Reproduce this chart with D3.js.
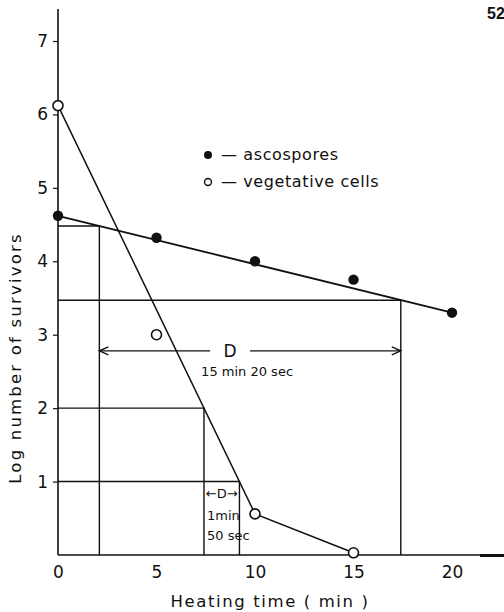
<!DOCTYPE html>
<html>
<head>
<meta charset="utf-8">
<script src="https://cdn.jsdelivr.net/npm/d3@7"></script>
<style>
  html, body { margin: 0; padding: 0; background: #fff; }
  svg { display: block; }
  text { font-family: "DejaVu Sans", "Noto Sans", sans-serif; fill: #111; }
</style>
</head>
<body>
<svg id="chart" width="504" height="612"></svg>
<script>
// Survival of ascospores and vegetative cells during heating
const ascoTime = [0, 5, 10, 15, 20];
const ascospores = [4.62, 4.32, 4.0, 3.75, 3.3];
const vegTime = [0, 5, 10, 15];
const vegetative = [6.12, 3.0, 0.56, 0.03];

// fitted survivor curves
const ascoFitTime = [0, 20];
const ascoFitLog = [4.62, 3.3];
const vegFitTime = [0, 10, 15];
const vegFitLog = [6.12, 0.56, 0.03];

// D-value construction lines: log level and the time where the curve reaches it
const ascoDLevels = [4.48, 3.47];
const ascoDTimes = [2.1, 17.4];
const vegDLevels = [2, 1];
const vegDTimes = [7.41, 9.21];

const xTicks = [0, 5, 10, 15, 20];
const yTicks = [1, 2, 3, 4, 5, 6, 7];

const svg = d3.select("#chart");
const x = d3.scaleLinear().domain([0, 20]).range([58, 452]);
const y = d3.scaleLinear().domain([0, 7]).range([555, 41]);
const ink = "#111";

// axes
svg.append("line").attr("x1", x(0)).attr("x2", 504).attr("y1", y(0)).attr("y2", y(0))
  .attr("stroke", ink).attr("stroke-width", 1.6);
svg.append("line").attr("x1", 480).attr("x2", 504).attr("y1", y(0) + 0.5).attr("y2", y(0) + 0.5)
  .attr("stroke", ink).attr("stroke-width", 3);
svg.append("line").attr("x1", x(0)).attr("x2", x(0)).attr("y1", 9).attr("y2", y(0))
  .attr("stroke", ink).attr("stroke-width", 1.6);

const yAxis = d3.axisLeft(y).tickValues(yTicks).tickSize(5).tickPadding(5).tickFormat(d3.format("d"));
const gy = svg.append("g").attr("transform", `translate(${x(0)},0)`).call(yAxis);
gy.select(".domain").remove();
gy.selectAll(".tick line").attr("stroke", ink).attr("stroke-width", 1.2);
gy.selectAll(".tick text").attr("font-size", 17).attr("fill", ink)
  .style("font-family", "'DejaVu Sans', sans-serif");

const xAxis = d3.axisBottom(x).tickValues(xTicks).tickSize(0).tickPadding(11).tickFormat(d3.format("d"));
const gx = svg.append("g").attr("transform", `translate(0,${y(0)})`).call(xAxis);
gx.select(".domain").remove();
gx.selectAll(".tick text").attr("font-size", 17).attr("fill", ink)
  .style("font-family", "'DejaVu Sans', sans-serif");

// axis titles
svg.append("text").attr("x", 270).attr("y", 607).attr("text-anchor", "middle")
  .attr("font-size", 16.5).attr("letter-spacing", 1.6).text("Heating  time ( min )");
svg.append("text").attr("transform", "translate(21,358) rotate(-90)").attr("text-anchor", "middle")
  .attr("font-size", 16.5).attr("letter-spacing", 2.2).text("Log number of survivors");

// construction lines for D values
function guides(levels, times) {
  levels.forEach((lv, i) => {
    svg.append("path")
      .attr("d", `M${x(0)},${y(lv)}H${x(times[i])}V${y(0)}`)
      .attr("fill", "none").attr("stroke", ink).attr("stroke-width", 1.4);
  });
}
guides(ascoDLevels, ascoDTimes);
guides(vegDLevels, vegDTimes);

// fitted curves
const line = d3.line().x(d => x(d[0])).y(d => y(d[1]));
svg.append("path").attr("d", line(ascoFitTime.map((t, i) => [t, ascoFitLog[i]])))
  .attr("fill", "none").attr("stroke", ink).attr("stroke-width", 1.8);
svg.append("path").attr("d", line(vegFitTime.map((t, i) => [t, vegFitLog[i]])))
  .attr("fill", "none").attr("stroke", ink).attr("stroke-width", 1.5);

// points
svg.selectAll("circle.asco").data(ascoTime.map((t, i) => [t, ascospores[i]])).enter()
  .append("circle").attr("class", "asco")
  .attr("cx", d => x(d[0])).attr("cy", d => y(d[1])).attr("r", 5.2).attr("fill", ink);
svg.selectAll("circle.veg").data(vegTime.map((t, i) => [t, vegetative[i]])).enter()
  .append("circle").attr("class", "veg")
  .attr("cx", d => x(d[0])).attr("cy", d => y(d[1])).attr("r", 5)
  .attr("fill", "#fff").attr("stroke", ink).attr("stroke-width", 1.6);

// D arrow for ascospores
const arrowY = y(2.78);
const dMid = (x(ascoDTimes[0]) + x(ascoDTimes[1])) / 2 - 20;
svg.append("path").attr("d", `M${x(ascoDTimes[0])},${arrowY}H${dMid - 20}M${dMid + 20},${arrowY}H${x(ascoDTimes[1])}`)
  .attr("stroke", ink).attr("stroke-width", 1.4).attr("fill", "none");
svg.append("path")
  .attr("d", `M${x(ascoDTimes[0]) + 9},${arrowY - 4}L${x(ascoDTimes[0])},${arrowY}L${x(ascoDTimes[0]) + 9},${arrowY + 4}` +
             `M${x(ascoDTimes[1]) - 9},${arrowY - 4}L${x(ascoDTimes[1])},${arrowY}L${x(ascoDTimes[1]) - 9},${arrowY + 4}`)
  .attr("stroke", ink).attr("stroke-width", 1.4).attr("fill", "none");
svg.append("text").attr("x", dMid).attr("y", arrowY + 6).attr("text-anchor", "middle")
  .attr("font-size", 17).text("D");
svg.append("text").attr("x", dMid + 17).attr("y", arrowY + 25).attr("text-anchor", "middle")
  .attr("font-size", 13).text("15 min  20 sec");

// D annotation for vegetative cells
const sx = (x(vegDTimes[0]) + x(vegDTimes[1])) / 2;
svg.append("text").attr("x", sx).attr("y", y(0.77)).attr("text-anchor", "middle")
  .attr("font-size", 13).text("←D→");
svg.append("text").attr("x", x(vegDTimes[0]) + 3).attr("y", y(0.47)).attr("font-size", 13).text("1min");
svg.append("text").attr("x", x(vegDTimes[0]) + 3).attr("y", y(0.2)).attr("font-size", 13).text("50 sec");

// legend
const legend = [
  { filled: true, label: "— ascospores", cy: 155 },
  { filled: false, label: "— vegetative cells", cy: 182 }
];
legend.forEach(l => {
  svg.append("circle").attr("cx", 208).attr("cy", l.cy).attr("r", l.filled ? 4 : 3.5)
    .attr("fill", l.filled ? ink : "#fff").attr("stroke", ink).attr("stroke-width", l.filled ? 0 : 1.4);
  svg.append("text").attr("x", 221).attr("y", l.cy + 5).attr("font-size", 16)
    .attr("letter-spacing", 0.6).text(l.label);
});

// page number
svg.append("text").attr("x", 487).attr("y", 19).attr("font-size", 16).attr("font-weight", "bold")
  .style("font-family", "'Liberation Sans', Arial, sans-serif").text("52");
</script>
</body>
</html>
